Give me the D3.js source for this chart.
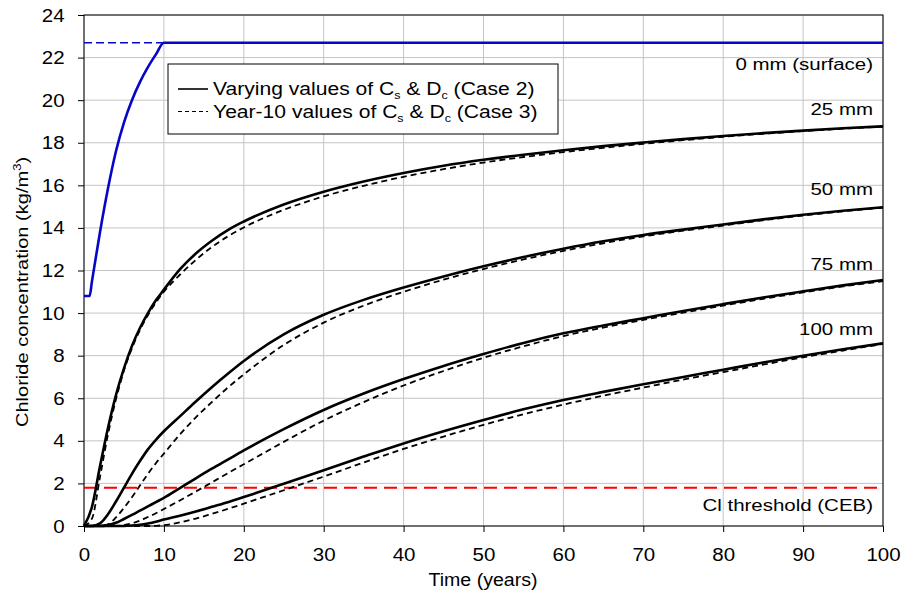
<html>
<head>
<meta charset="utf-8">
<title>chloride profiles</title>
<script src="https://cdn.jsdelivr.net/npm/d3@7"></script>
<style>
	body { margin: 0; background: #fff; }
	text { font-family: "Liberation Sans", Arial, Helvetica, sans-serif; fill: #000; }
	.grid line { stroke: #c4c4c4; stroke-width: 1; }
	.axis path { display: none; }
	.axis line { stroke: #000; }
	.curve { fill: none; }
</style>
</head>
<body>
<svg id="chart" width="904" height="599"></svg>
<script>

//
// Data
//

var years = [0, 1, 2, 3, 4, 5, 6, 7, 8, 9, 10, 12, 14, 16, 18, 20, 25, 30, 35, 40, 45, 50, 55, 60, 65, 70, 75, 80, 85, 90, 95, 100];

// Case 2: varying Cs & Dc (solid)
var case2_25 = [0, 0.9, 2.8, 4.6, 6.15, 7.4, 8.45, 9.3, 10.0, 10.6, 11.1, 12.05, 12.8, 13.4, 13.9, 14.3, 15.1, 15.7, 16.18, 16.58, 16.92, 17.2, 17.44, 17.65, 17.84, 18.01, 18.17, 18.32, 18.45, 18.57, 18.68, 18.77];
var case2_50 = [0, 0, 0.12, 0.55, 1.15, 1.8, 2.45, 3.05, 3.6, 4.05, 4.45, 5.15, 5.85, 6.52, 7.15, 7.75, 9.0, 9.92, 10.62, 11.2, 11.72, 12.2, 12.63, 13.02, 13.37, 13.67, 13.92, 14.16, 14.4, 14.62, 14.81, 14.97];
var case2_75 = [0, 0, 0, 0.04, 0.15, 0.33, 0.52, 0.72, 0.92, 1.12, 1.32, 1.78, 2.24, 2.69, 3.12, 3.55, 4.55, 5.45, 6.22, 6.9, 7.52, 8.08, 8.6, 9.05, 9.42, 9.76, 10.1, 10.42, 10.73, 11.02, 11.3, 11.55];
var case2_100 = [0, 0, 0, 0, 0, 0, 0.02, 0.06, 0.12, 0.2, 0.3, 0.48, 0.68, 0.9, 1.12, 1.36, 1.98, 2.62, 3.26, 3.88, 4.45, 4.98, 5.48, 5.92, 6.3, 6.66, 7.0, 7.34, 7.68, 8.0, 8.3, 8.58];

// Case 3: year-10 values of Cs & Dc (dashed)
var case3_25 = [0, 0.35, 2.3, 4.3, 5.95, 7.3, 8.35, 9.2, 9.9, 10.5, 11.0, 11.8, 12.5, 13.1, 13.6, 14.02, 14.85, 15.48, 15.98, 16.4, 16.76, 17.07, 17.33, 17.56, 17.76, 17.95, 18.12, 18.28, 18.42, 18.55, 18.66, 18.76];
var case3_50 = [0, 0, 0, 0.08, 0.4, 0.85, 1.35, 1.9, 2.45, 2.95, 3.4, 4.3, 5.1, 5.82, 6.5, 7.12, 8.5, 9.55, 10.35, 11.0, 11.57, 12.07, 12.52, 12.92, 13.28, 13.6, 13.87, 14.11, 14.36, 14.58, 14.78, 14.95];
var case3_75 = [0, 0, 0, 0, 0, 0.04, 0.12, 0.25, 0.42, 0.6, 0.8, 1.2, 1.62, 2.05, 2.48, 2.9, 3.95, 4.95, 5.82, 6.6, 7.28, 7.9, 8.44, 8.92, 9.32, 9.68, 10.02, 10.35, 10.67, 10.97, 11.25, 11.5];
var case3_100 = [0, 0, 0, 0, 0, 0, 0, 0, 0, 0.01, 0.04, 0.17, 0.35, 0.57, 0.8, 1.05, 1.68, 2.32, 2.98, 3.62, 4.2, 4.75, 5.25, 5.7, 6.12, 6.5, 6.88, 7.23, 7.58, 7.92, 8.24, 8.55];

// Surface (0 mm)
var surfYears = [0, 0.7, 1, 2, 3, 4, 5, 6, 7, 8, 9, 10, 100];
var surfCase2 = [10.8, 10.8, 11.5, 13.8, 15.85, 17.6, 18.95, 20.0, 20.85, 21.55, 22.15, 22.7, 22.7];
var surfCase3Years = [0, 10];
var surfCase3 = [22.7, 22.7];

var threshold = 1.8;

var xTicks = [0, 10, 20, 30, 40, 50, 60, 70, 80, 90, 100];
var yTicks = [0, 2, 4, 6, 8, 10, 12, 14, 16, 18, 20, 22, 24];

var depthLabels = ["0 mm (surface)", "25 mm", "50 mm", "75 mm", "100 mm"];

//
// Scales & layout
//

var svg = d3.select("#chart");
var x = d3.scaleLinear().domain([0, 100]).range([84, 883]);
var y = d3.scaleLinear().domain([0, 24]).range([526, 15]);

// stretched text helper (the source font runs wide)
function addText(g, px, py, str, size, sx, anchor) {
	return g.append("text")
		.attr("transform", "translate(" + px + "," + py + ") scale(" + sx + ",1)")
		.attr("font-size", size)
		.attr("text-anchor", anchor || "start")
		.text(str);
}

// Grid
var gridG = svg.append("g").attr("class", "grid");
xTicks.forEach(function(d) {
	gridG.append("line")
		.attr("x1", x(d)).attr("x2", x(d))
		.attr("y1", y(0)).attr("y2", y(24));
});
yTicks.forEach(function(d) {
	gridG.append("line")
		.attr("x1", x(0)).attr("x2", x(100))
		.attr("y1", y(d)).attr("y2", y(d));
});

// Frame
svg.append("rect")
	.attr("x", x(0)).attr("y", y(24))
	.attr("width", x(100) - x(0)).attr("height", y(0) - y(24))
	.attr("fill", "none").attr("stroke", "#000").attr("stroke-width", 1);

// Axes
var xAxis = svg.append("g")
	.attr("class", "axis")
	.attr("transform", "translate(0," + y(0) + ")")
	.call(d3.axisBottom(x).tickValues(xTicks).tickSize(6).tickPadding(16));
xAxis.selectAll("text").attr("font-size", 19).attr("fill", "#000")
	.attr("transform", "scale(1.08,1)");

var yAxis = svg.append("g")
	.attr("class", "axis")
	.attr("transform", "translate(" + x(0) + ",0)")
	.call(d3.axisLeft(y).tickValues(yTicks).tickSize(6).tickPadding(12));
yAxis.selectAll("text").attr("font-size", 19).attr("fill", "#000")
	.attr("transform", "scale(1.08,1)");
svg.selectAll(".axis text").style("font-family", "\"Liberation Sans\", Arial, sans-serif");

// Axis titles
addText(svg, 483, 586, "Time (years)", 17.5, 1.12, "middle");
var yTitle = svg.append("text")
	.attr("transform", "translate(28,292) rotate(-90) scale(1.18,1)")
	.attr("font-size", 17)
	.attr("text-anchor", "middle");
yTitle.append("tspan").text("Chloride concentration (kg/m");
yTitle.append("tspan").attr("font-size", 11).attr("dy", -7).text("3");
yTitle.append("tspan").attr("dy", 7).text(")");

//
// Curves
//

var line = d3.line()
	.x(function(d) { return x(d[0]); })
	.y(function(d) { return y(d[1]); })
	.curve(d3.curveMonotoneX);

function pairs(xs, ys) { return xs.map(function(t, i) { return [t, ys[i]]; }); }

var curveG = svg.append("g");

// threshold
curveG.append("path")
	.datum([[0, threshold], [100, threshold]])
	.attr("class", "curve")
	.attr("d", line)
	.attr("stroke", "#ff0000")
	.attr("stroke-width", 2)
	.attr("stroke-dasharray", "13,7");

// surface
curveG.append("path")
	.datum(pairs(surfCase3Years, surfCase3))
	.attr("class", "curve")
	.attr("d", line)
	.attr("stroke", "#0606c8")
	.attr("stroke-width", 1.6)
	.attr("stroke-dasharray", "8,4");
curveG.append("path")
	.datum(pairs(surfYears, surfCase2))
	.attr("class", "curve")
	.attr("d", line)
	.attr("stroke", "#0606c8")
	.attr("stroke-width", 2.6);

var solidSeries = [case2_25, case2_50, case2_75, case2_100];
var dashedSeries = [case3_25, case3_50, case3_75, case3_100];

solidSeries.forEach(function(s) {
	curveG.append("path")
		.datum(pairs(years, s))
		.attr("class", "curve")
		.attr("d", line)
		.attr("stroke", "#000")
		.attr("stroke-width", 2.6);
});
dashedSeries.forEach(function(s) {
	curveG.append("path")
		.datum(pairs(years, s))
		.attr("class", "curve")
		.attr("d", line)
		.attr("stroke", "#000")
		.attr("stroke-width", 1.8)
		.attr("stroke-dasharray", "6,4");
});

// Curve labels
var labelY = [70, 115, 195, 270, 335];
depthLabels.forEach(function(d, i) {
	addText(svg, 873, labelY[i], d, 16, 1.28, "end");
});
addText(svg, 873, 511, "Cl threshold (CEB)", 16, 1.28, "end");

//
// Legend
//

var legend = svg.append("g");
legend.append("rect")
	.attr("x", 168).attr("y", 64).attr("width", 390).attr("height", 70)
	.attr("fill", "#fff").attr("stroke", "#000").attr("stroke-width", 1);
legend.append("line")
	.attr("x1", 178).attr("x2", 208).attr("y1", 89).attr("y2", 89)
	.attr("stroke", "#000").attr("stroke-width", 1.6);
legend.append("line")
	.attr("x1", 178).attr("x2", 208).attr("y1", 111.5).attr("y2", 111.5)
	.attr("stroke", "#000").attr("stroke-width", 1.2).attr("stroke-dasharray", "4,3");

function legendText(py, lead, tail) {
	var t = legend.append("text")
		.attr("transform", "translate(213," + py + ") scale(1.14,1)")
		.attr("font-size", 18.5);
	t.append("tspan").text(lead + "C");
	t.append("tspan").attr("font-size", 11).attr("dy", 4).text("s");
	t.append("tspan").attr("dy", -4).text(" & D");
	t.append("tspan").attr("font-size", 11).attr("dy", 4).text("c");
	t.append("tspan").attr("dy", -4).text(tail);
}
legendText(95, "Varying values of ", " (Case 2)");
legendText(118, "Year-10 values of ", " (Case 3)");

</script>
</body>
</html>
